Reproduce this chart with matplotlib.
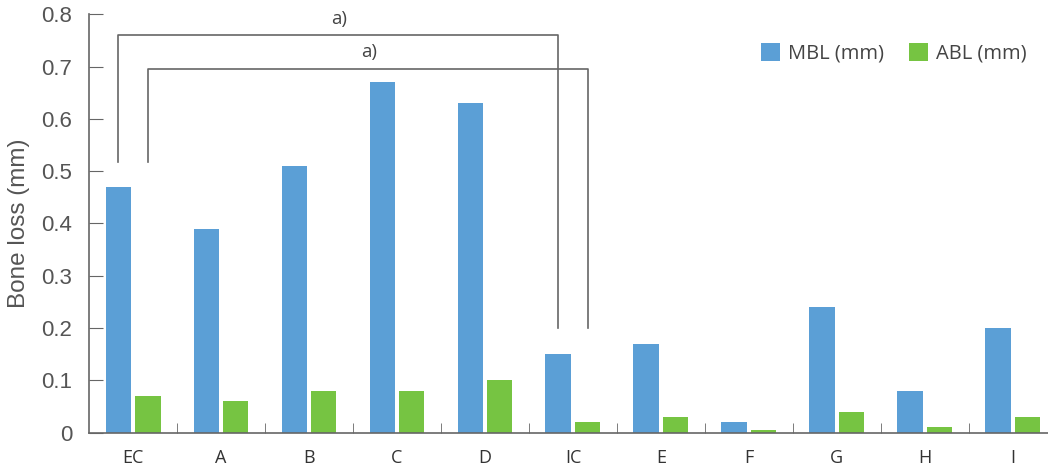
import numpy as np
import matplotlib
matplotlib.use('Agg')
import matplotlib.pyplot as plt

groups = ['EC', 'A', 'B', 'C', 'D', 'IC', 'E', 'F', 'G', 'H', 'I']
mbl = [0.47, 0.39, 0.51, 0.67, 0.63, 0.15, 0.17, 0.02, 0.24, 0.08, 0.20]
abl = [0.07, 0.06, 0.08, 0.08, 0.10, 0.02, 0.03, 0.005, 0.04, 0.01, 0.03]
series_names = ['MBL (mm)', 'ABL (mm)']

blue = '#5b9fd6'
green = '#76c442'
axis_grey = '#666666'
text_grey = '#555555'

fig = plt.figure(figsize=(10.48, 4.75), dpi=100)
ax = fig.add_axes([0.085, 0.089, 0.915, 0.881])

x = np.arange(len(groups))
w = 0.29
off = 0.167
ax.bar(x - off, mbl, w, color=blue, label=series_names[0])
ax.bar(x + off, abl, w, color=green, label=series_names[1])

ax.set_ylim(0, 0.8)
ax.set_xlim(-0.5, 10.4)
ax.set_yticks(np.arange(0, 0.81, 0.1))
ax.set_yticklabels(['0'] + ['%.1f' % v for v in np.arange(0.1, 0.81, 0.1)],
                   fontsize=16, color=text_grey, family='Liberation Sans')
ax.tick_params(axis='y', direction='in', length=10, color=axis_grey, pad=12)

# category labels at centres, tick marks at the boundaries
ax.set_xticks(x)
ax.set_xticklabels(groups, fontsize=13, color='#333333', family='Open Sans')
ax.tick_params(axis='x', length=0, pad=12)
ax.set_xticks(x[:-1] + 0.5, minor=True)
ax.tick_params(axis='x', which='minor', direction='in', length=7, color=axis_grey)

for s in ['top', 'right']:
    ax.spines[s].set_visible(False)
for s in ['left', 'bottom']:
    ax.spines[s].set_color(axis_grey)
    ax.spines[s].set_linewidth(1.2)

ax.set_ylabel('Bone loss (mm)', fontsize=17.5, color=text_grey,
              family='Liberation Sans', labelpad=8)

# significance brackets: EC vs IC for both measures
bx1 = [0 - off, 0 - off, 5 - off, 5 - off]
by1 = [0.517, 0.76, 0.76, 0.20]
bx2 = [0 + off, 0 + off, 5 + off, 5 + off]
by2 = [0.517, 0.695, 0.695, 0.20]
ax.plot(bx1, by1, color=axis_grey, lw=1.2, clip_on=False)
ax.plot(bx2, by2, color=axis_grey, lw=1.2, clip_on=False)
ax.text(2.34, 0.79, 'a)', ha='center', va='center', fontsize=13.5,
        color='#444444', family='Open Sans')
ax.text(2.68, 0.727, 'a)', ha='center', va='center', fontsize=13.5,
        color='#444444', family='Open Sans')

leg = ax.legend(loc='center right', bbox_to_anchor=(0.978, 0.907), ncol=2,
                frameon=False, borderpad=0, borderaxespad=0,
                handlelength=0.95, handleheight=1.0,
                columnspacing=1.25, handletextpad=0.4,
                prop={'family': 'Open Sans', 'size': 14.5})
for t in leg.get_texts():
    t.set_color('#444444')

fig.savefig('out.png', dpi=100)
